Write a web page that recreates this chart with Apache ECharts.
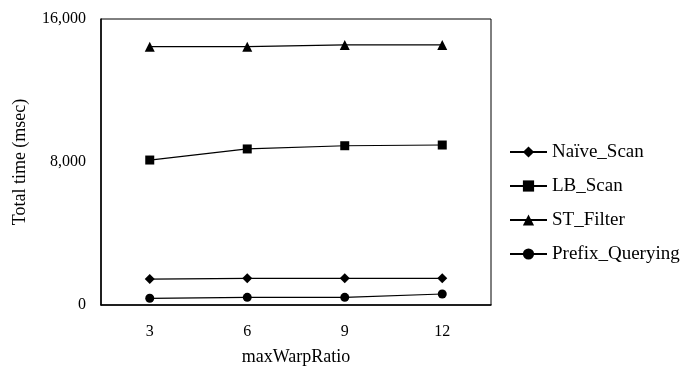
<!DOCTYPE html>
<html><head><meta charset="utf-8">
<script src="https://cdn.jsdelivr.net/npm/echarts@6/dist/echarts.min.js"></script>
<style>html,body{margin:0;padding:0;background:#fff}#c{width:683px;height:375px}</style>
</head><body><div id="c"></div>
<script>
const categories = ['3', '6', '9', '12'];
const naiveScan = [1450, 1490, 1490, 1490];
const lbScan = [8110, 8730, 8910, 8950];
const stFilter = [14450, 14450, 14550, 14550];
const prefixQuerying = [375, 430, 430, 615];
const yTicks = [0, 8000, 16000];

const font = 'Liberation Serif';
const chart = echarts.init(document.getElementById('c'), null, {renderer: 'canvas'});
function mk(name, data, symbol, size) {
  return {name, type: 'line', data, symbol, symbolSize: size, showSymbol: true,
    itemStyle: {color: '#000'}, lineStyle: {color: '#000', width: 1.2}, animation: false};
}
chart.setOption({
  animation: false,
  grid: {left: 101, top: 19, right: 192, bottom: 70, show: true, borderColor: '#000', borderWidth: 1,
    outerBoundsMode: 'none', containLabel: false},
  legend: {orient: 'vertical', left: 509, top: 142, padding: 0, itemWidth: 37, itemHeight: 14, itemGap: 14,
    textStyle: {fontFamily: font, fontSize: 19, lineHeight: 20, color: '#000'},
    data: ['Naïve_Scan', 'LB_Scan', 'ST_Filter', 'Prefix_Querying']},
  xAxis: {type: 'category', data: categories, boundaryGap: true,
    name: 'maxWarpRatio', nameLocation: 'middle', nameGap: 43,
    nameTextStyle: {fontFamily: font, fontSize: 18, color: '#000'},
    axisLine: {lineStyle: {color: '#000', width: 1.5}}, axisTick: {show: false},
    axisLabel: {fontFamily: font, fontSize: 16, color: '#000', margin: 19}},
  yAxis: {type: 'value', min: yTicks[0], max: yTicks[yTicks.length - 1], interval: 8000,
    name: 'Total time (msec)', nameLocation: 'middle', nameGap: 72,
    nameTextStyle: {fontFamily: font, fontSize: 18, color: '#000'},
    axisLine: {show: true, lineStyle: {color: '#000', width: 1.5}}, axisTick: {show: false},
    splitLine: {show: false},
    axisLabel: {fontFamily: font, fontSize: 16, color: '#000', margin: 15,
      formatter: v => v.toLocaleString('en-US')}},
  series: [
    mk('Naïve_Scan', naiveScan, 'diamond', 10),
    mk('LB_Scan', lbScan, 'rect', 9),
    mk('ST_Filter', stFilter, 'triangle', 10),
    mk('Prefix_Querying', prefixQuerying, 'circle', 9)
  ]
});
</script></body></html>
